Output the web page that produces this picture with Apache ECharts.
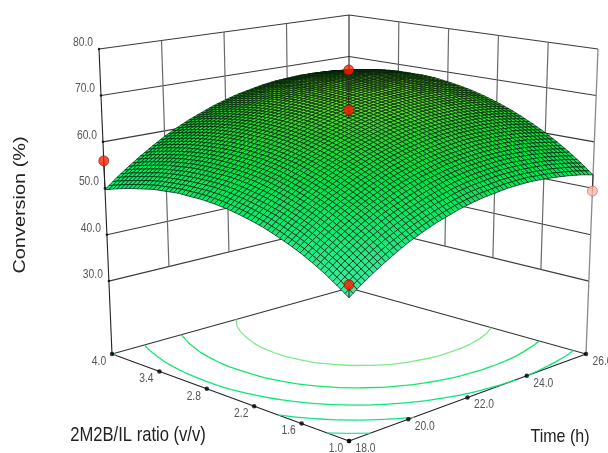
<!DOCTYPE html>
<html><head><meta charset="utf-8">
<style>html,body{margin:0;padding:0;background:#fff}#c{width:608px;height:453px}</style>
<script src="https://cdn.jsdelivr.net/npm/echarts@6/dist/echarts.min.js"></script>
</head><body><div id="c"></div>
<script>
// ---- data ----
const TIME_TICKS = [18, 20, 22, 24, 26];
const RATIO_TICKS = [1.0, 1.6, 2.2, 2.8, 3.4, 4.0];
const CONV_TICKS = [30, 40, 50, 60, 70, 80];
const CONV_FLOOR = 14.3, CONV_TOP = 80;
const CONTOUR_LEVELS = [45, 50, 55, 60, 65];
// grid nodes: time 18..26 (step 0.4, columns), ratio 1..4 (step 0.15, rows)
const CONVERSION = [
[41.9,43.7,45.3,46.8,48.2,49.5,50.6,51.6,52.4,53.2,53.8,54.3,54.6,54.9,55.0,55.0,54.8,54.5,54.1,53.6,52.9],
[43.6,45.4,47.0,48.6,50.0,51.2,52.4,53.4,54.3,55.0,55.7,56.2,56.5,56.8,56.9,56.9,56.7,56.5,56.1,55.6,54.9],
[45.2,47.0,48.6,50.2,51.6,52.9,54.0,55.0,55.9,56.7,57.4,57.9,58.3,58.5,58.7,58.7,58.5,58.3,57.9,57.4,56.8],
[46.6,48.4,50.1,51.6,53.1,54.4,55.5,56.6,57.5,58.3,58.9,59.5,59.9,60.1,60.3,60.3,60.2,60.0,59.6,59.1,58.5],
[47.9,49.7,51.4,53.0,54.4,55.7,56.9,58.0,58.9,59.7,60.4,60.9,61.3,61.6,61.8,61.8,61.7,61.5,61.2,60.7,60.1],
[49.0,50.9,52.6,54.2,55.6,56.9,58.2,59.2,60.2,61.0,61.7,62.2,62.7,63.0,63.2,63.2,63.1,62.9,62.6,62.1,61.5],
[50.0,51.9,53.6,55.2,56.7,58.0,59.3,60.3,61.3,62.1,62.8,63.4,63.9,64.2,64.4,64.4,64.4,64.2,63.9,63.4,62.8],
[50.9,52.8,54.5,56.1,57.6,59.0,60.2,61.3,62.3,63.1,63.9,64.5,64.9,65.2,65.5,65.5,65.5,65.3,65.0,64.6,64.0],
[51.6,53.5,55.3,56.9,58.4,59.8,61.0,62.2,63.1,64.0,64.7,65.4,65.8,66.2,66.4,66.5,66.5,66.3,66.0,65.6,65.0],
[52.2,54.1,55.9,57.6,59.1,60.5,61.7,62.9,63.9,64.7,65.5,66.1,66.6,67.0,67.2,67.3,67.3,67.1,66.9,66.5,65.9],
[52.7,54.6,56.4,58.1,59.6,61.0,62.3,63.4,64.4,65.3,66.1,66.7,67.2,67.6,67.9,68.0,68.0,67.9,67.6,67.2,66.7],
[53.0,55.0,56.8,58.4,60.0,61.4,62.7,63.8,64.9,65.8,66.6,67.2,67.7,68.1,68.4,68.5,68.6,68.4,68.2,67.8,67.3],
[53.2,55.2,57.0,58.6,60.2,61.6,63.0,64.1,65.2,66.1,66.9,67.6,68.1,68.5,68.8,69.0,69.0,68.9,68.6,68.3,67.8],
[53.2,55.2,57.0,58.7,60.3,61.8,63.1,64.3,65.4,66.3,67.1,67.8,68.3,68.8,69.1,69.2,69.3,69.2,69.0,68.6,68.2],
[53.2,55.1,57.0,58.7,60.3,61.8,63.1,64.3,65.4,66.3,67.2,67.9,68.4,68.9,69.2,69.4,69.4,69.3,69.1,68.8,68.4],
[52.9,54.9,56.8,58.5,60.1,61.6,63.0,64.2,65.3,66.2,67.1,67.8,68.4,68.8,69.2,69.4,69.4,69.4,69.2,68.9,68.4],
[52.6,54.6,56.4,58.2,59.8,61.3,62.7,63.9,65.0,66.0,66.9,67.6,68.2,68.6,69.0,69.2,69.3,69.2,69.1,68.8,68.4],
[52.0,54.1,56.0,57.7,59.4,60.9,62.3,63.5,64.6,65.6,66.5,67.2,67.9,68.3,68.7,68.9,69.0,69.0,68.8,68.6,68.2],
[51.4,53.4,55.3,57.1,58.8,60.3,61.7,63.0,64.1,65.1,66.0,66.8,67.4,67.9,68.3,68.5,68.6,68.6,68.5,68.2,67.8],
[50.6,52.7,54.6,56.4,58.1,59.6,61.0,62.3,63.4,64.5,65.4,66.1,66.8,67.3,67.7,67.9,68.1,68.1,68.0,67.7,67.3],
[49.7,51.8,53.7,55.5,57.2,58.8,60.2,61.5,62.6,63.7,64.6,65.4,66.0,66.6,67.0,67.2,67.4,67.4,67.3,67.1,66.7]
];
const POINT_TIME  = [18, 18, 26, 22, 22];
const POINT_RATIO = [4, 1, 1, 2.5, 2.5];
const POINT_CONV  = [55.9, 44.4, 49.4, 67.8, 76.4];
const COLOR_STOPS = [[42,[70,235,165]],[50,[20,235,120]],[58,[0,228,70]],[64,[40,215,45]],[70,[135,225,40]]];

// ---- oblique frame: corners [u,v] => plane position at floor and top ----
const FRAME_FLOOR = {f:[349,441], r:[586,354], b:[349,288], l:[112,354]};
const FRAME_TOP   = {f:[349,100], r:[598,49],  b:[349,15],  l:[99,49]};
const lerp=(a,b,t)=>a+(b-a)*t;
function bil(q,u,v,k){return lerp(lerp(q.f[k],q.r[k],u),lerp(q.l[k],q.b[k],u),v);}
function project(time,ratio,conv){
  const u=(time-18)/8, v=(ratio-1)/3, w=(conv-CONV_FLOOR)/(CONV_TOP-CONV_FLOOR);
  return [lerp(bil(FRAME_FLOOR,u,v,0),bil(FRAME_TOP,u,v,0),w),
          lerp(bil(FRAME_FLOOR,u,v,1),bil(FRAME_TOP,u,v,1),w)];
}
const N=CONVERSION.length-1, SUB=3, M=N*SUB;
function convAt(i,j){ // i: time fine index, j: ratio fine index
  const a=i/SUB,b=j/SUB,ia=Math.min(Math.floor(a),N-1),ib=Math.min(Math.floor(b),N-1),ta=a-ia,tb=b-ib;
  return lerp(lerp(CONVERSION[ib][ia],CONVERSION[ib][ia+1],ta),lerp(CONVERSION[ib+1][ia],CONVERSION[ib+1][ia+1],ta),tb);
}
function colorFor(z){
  let s=COLOR_STOPS,k=0; while(k<s.length-2&&z>s[k+1][0])k++;
  const t=Math.max(0,Math.min(1,(z-s[k][0])/(s[k+1][0]-s[k][0])));
  return 'rgb('+[0,1,2].map(c=>Math.round(lerp(s[k][1][c],s[k+1][1][c],t))).join(',')+')';
}
const tOf=i=>18+8*i/M, rOf=j=>1+3*j/M;

// surface facets, far to near
const facets=[], facetColors=[];
for(let i=M-1;i>=0;i--)for(let j=M-1;j>=0;j--){
  const c=[[i,j],[i+1,j],[i+1,j+1],[i,j+1]];
  const row=[];let sum=0;
  c.forEach(([a,b])=>{const z=convAt(a,b);sum+=z;row.push(...project(tOf(a),rOf(b),z));});
  facets.push(row);facetColors.push(colorFor(sum/4));
}
// frame lines
const seg=[], segStyle=[];
const S={wallV:['#6a6a6a',1.2],wallH:['#3a3a3a',1.1],axis:['#222',1.1],edge:['#333',1.1],rightV:['#8a8a8a',1.3]};
function addSeg(a,b,s){seg.push([...project(...a),...project(...b)]);segStyle.push(S[s]);}
const T0=18,T1=26,R0=1,R1=4;
CONV_TICKS.forEach(z=>{addSeg([T0,R1,z],[T1,R1,z],'wallH');addSeg([T1,R1,z],[T1,R0,z],'wallH');});
TIME_TICKS.slice(1,-1).forEach(t=>addSeg([t,R1,30],[t,R1,80],'wallV'));
RATIO_TICKS.slice(1,-1).forEach(r=>addSeg([T1,r,30],[T1,r,80],'wallV'));
addSeg([T0,R1,CONV_FLOOR],[T0,R1,80],'axis');
addSeg([T1,R1,CONV_FLOOR],[T1,R1,80],'axis');
addSeg([T1,R0,CONV_FLOOR],[T1,R0,80],'rightV');
addSeg([T0,R1,CONV_FLOOR],[T1,R1,CONV_FLOOR],'edge');
addSeg([T1,R1,CONV_FLOOR],[T1,R0,CONV_FLOOR],'edge');
addSeg([T0,R1,CONV_FLOOR],[T0,R0,CONV_FLOOR],'axis');
addSeg([T0,R0,CONV_FLOOR],[T1,R0,CONV_FLOOR],'axis');
// contours by marching squares on the table
const contourSeg=[], contourColor=[];
const LEVEL_COLORS=['#2fe3a6','#10e58a','#0be67a','#14e56a','#7fe98a'];
CONTOUR_LEVELS.forEach((L,li)=>{
  for(let b=0;b<N;b++)for(let a=0;a<N;a++){
    const n=[[a,b],[a+1,b],[a+1,b+1],[a,b+1]], pts=[];
    for(let e=0;e<4;e++){
      const p=n[e],q=n[(e+1)%4],zp=CONVERSION[p[1]][p[0]],zq=CONVERSION[q[1]][q[0]];
      if((zp<L)!==(zq<L)){const t=(L-zp)/(zq-zp);
        pts.push(project(18+8*lerp(p[0],q[0],t)/N,1+3*lerp(p[1],q[1],t)/N,CONV_FLOOR));}
    }
    for(let k=0;k+1<pts.length;k+=2){contourSeg.push([...pts[k],...pts[k+1]]);contourColor.push(LEVEL_COLORS[li]);}
  }
});
// stems
const stems=POINT_CONV.map((z,k)=>{
  const t=POINT_TIME[k],r=POINT_RATIO[k];
  const s=convAt((t-18)/8*M,(r-1)/3*M);
  return [...project(t,r,s),...project(t,r,z)];
});
const pts=POINT_CONV.map((z,k)=>{
  const s=convAt((POINT_TIME[k]-18)/8*M,(POINT_RATIO[k]-1)/3*M);
  const below=z<s-1;
  return {value:project(POINT_TIME[k],POINT_RATIO[k],z),
    itemStyle:{color:below?'#ffb4ac':'#ff2200',borderColor:below?'#a86a64':'#8a1000',borderWidth:.8}};
});
// tick labels
const labelData=[],labelText=[],labelOff=[],labelAlign=[];
CONV_TICKS.forEach(z=>{labelData.push(project(T0,R1,z));labelText.push(z.toFixed(1));labelOff.push([-6,-6.5]);labelAlign.push('right');});
RATIO_TICKS.forEach(r=>{labelData.push(project(T0,r,CONV_FLOOR));labelText.push(r.toFixed(1));labelOff.push([-13,7.5]);labelAlign.push('center');});
TIME_TICKS.forEach(t=>{labelData.push(project(t,R0,CONV_FLOOR));labelText.push(t.toFixed(1));labelOff.push([16.5,7.5]);labelAlign.push('center');});
// tick dots
const floorDots=[...RATIO_TICKS.map(r=>project(T0,r,CONV_FLOOR)),...TIME_TICKS.map(t=>project(t,R0,CONV_FLOOR))];
const convDots=CONV_TICKS.map(z=>project(T0,R1,z));

const FONT='"Liberation Sans",Arial,sans-serif';
function segRender(lookup){return (p,api)=>{
  const a=api.coord([api.value(0),api.value(1)]),b=api.coord([api.value(2),api.value(3)]),s=lookup(p.dataIndex);
  return {type:'line',silent:true,shape:{x1:a[0],y1:a[1],x2:b[0],y2:b[1]},style:{stroke:s[0],lineWidth:s[1]}};
};}
const chart=echarts.init(document.getElementById('c'),null,{renderer:'canvas'});
chart.setOption({
  animation:false,backgroundColor:'#fff',
  grid:{left:0,right:0,top:0,bottom:0},
  xAxis:{type:'value',min:0,max:608,show:false},
  yAxis:{type:'value',min:0,max:453,inverse:true,show:false},
  series:[
    {type:'custom',name:'frame',z:1,progressive:0,silent:true,coordinateSystem:'cartesian2d',data:seg,renderItem:segRender(i=>segStyle[i])},
    {type:'custom',name:'contours',z:2,progressive:0,silent:true,data:contourSeg,renderItem:segRender(i=>[contourColor[i],1.3])},
    {type:'scatter',name:'floor ticks',z:3,silent:true,symbolSize:4.5,itemStyle:{color:'#000'},data:floorDots},
    {type:'scatter',name:'conv ticks',z:3,silent:true,symbolSize:2.5,itemStyle:{color:'#000'},data:convDots},
    {type:'custom',name:'surface',z:4,progressive:0,silent:true,data:facets,renderItem:(p,api)=>{
      const P=[];for(let k=0;k<4;k++)P.push(api.coord([api.value(2*k),api.value(2*k+1)]));
      return {type:'polygon',silent:true,shape:{points:P},style:{fill:facetColors[p.dataIndex],stroke:'#001a08',lineWidth:.7}};
    }},
    {type:'custom',name:'stems',z:5,progressive:0,silent:true,data:stems,renderItem:segRender(()=>['#222',1])},
    {type:'scatter',name:'design points',z:6,silent:true,symbolSize:10,data:pts},
    {type:'custom',name:'tick labels',z:7,progressive:0,silent:true,data:labelData,renderItem:(p,api)=>{
      const a=api.coord([api.value(0),api.value(1)]),o=labelOff[p.dataIndex];
      return {type:'text',silent:true,x:a[0]+o[0],y:a[1]+o[1],scaleY:1.18,
        style:{text:labelText[p.dataIndex],fontFamily:FONT,fontSize:10.3,fill:'#555',align:labelAlign[p.dataIndex],verticalAlign:'middle'}};
    }}
  ],
  graphic:[
    {type:'text',silent:true,x:20.5,y:205,rotation:Math.PI/2,scaleX:1.2,style:{text:'Conversion (%)',fontFamily:FONT,fontSize:16.6,fill:'#222',align:'center',verticalAlign:'middle'}},
    {type:'text',silent:true,x:138,y:436,scaleY:1.18,style:{text:'2M2B/IL ratio (v/v)',fontFamily:FONT,fontSize:16.6,fill:'#222',align:'center',verticalAlign:'middle'}},
    {type:'text',silent:true,x:560,y:437,scaleY:1.18,style:{text:'Time (h)',fontFamily:FONT,fontSize:16,fill:'#222',align:'center',verticalAlign:'middle'}}
  ]
});
</script></body></html>
